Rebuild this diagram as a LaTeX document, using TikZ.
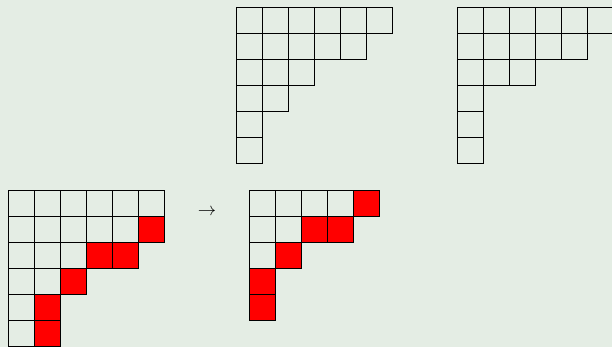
\documentclass[tikz,border=0pt]{standalone}
\usepackage{amsmath,amssymb}
\usepackage{tikz}
\usetikzlibrary{positioning}
\definecolor{bgc}{HTML}{E4EDE4}

\begin{document}
\begin{tikzpicture}[
    x=0.5cm, y=0.5cm,
    cell/.style={draw, line width=0.5pt, minimum size=0.5cm, inner sep=0pt, outer sep=0pt},
    hit/.style={cell, fill=red},
]

% Background and page size
\fill[bgc] (0,0) rectangle (23.54,-13.35);
\useasboundingbox (0,0) rectangle (23.54,-13.35);

% Top left: 6,5,3,2,1,1
\foreach \len [count=\r] in {6,5,3,2,1,1}
  \foreach \c in {1,...,\len}
    \node[cell] (A-\r-\c) at (9.077+\c-0.5, -0.269-\r+0.5) {};

% Top right: 6,5,3,1,1,1
\foreach \len [count=\r] in {6,5,3,1,1,1}
  \foreach \c in {1,...,\len}
    \node[cell] (B-\r-\c) at (17.577+\c-0.5, -0.269-\r+0.5) {};

% Bottom left: 6,6,5,3,2,2
\foreach \len [count=\r] in {6,6,5,3,2,2}
  \foreach \c in {1,...,\len}
    \node[cell] (C-\r-\c) at (0.308+\c-0.5, -7.308-\r+0.5) {};
\foreach \r/\c in {2/6,3/4,3/5,4/3,5/2,6/2}
  \node[hit] at (C-\r-\c) {};

% Bottom right: 5,4,2,1,1
\foreach \len [count=\r] in {5,4,2,1,1}
  \foreach \c in {1,...,\len}
    \node[cell] (D-\r-\c) at (9.577+\c-0.5, -7.308-\r+0.5) {};
\foreach \r/\c in {1/5,2/3,2/4,3/2,4/1,5/1}
  \node[hit] at (D-\r-\c) {};

% Map sign
\node (maps) at (7.96,-8.15) {$\to$};

\end{tikzpicture}
\end{document}
